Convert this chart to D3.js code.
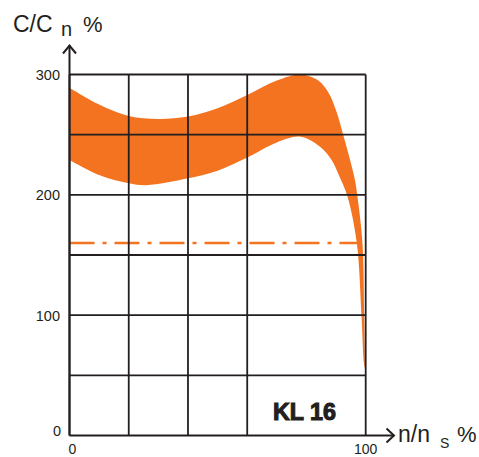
<!DOCTYPE html>
<html>
<head>
<meta charset="utf-8">
<script src="https://cdn.jsdelivr.net/npm/d3@7"></script>
<style>
  body { margin: 0; background: #fff; }
  text { font-family: "Liberation Sans", Arial, sans-serif; fill: #231f20; }
</style>
</head>
<body>
<div id="place"></div>
<script>
// upper / lower edge of the torque band, [n/ns %, C/Cn %]
const upperEdge = [[0,289],[10,275],[20,265.5],[30,263],[40,265],[50,272],[60,283],[70,295],[78,300],[84,295],[87.4,285],[90,270],[92.4,250],[94.5,231],[96.4,212],[97.2,199],[98.9,160],[99.5,98],[99.8,55]]
const lowerEdge = [[0,229],[10,216.5],[20,209.6],[26,208],[40,213.7],[50,220],[60,231],[70,243.5],[78,248.3],[84.6,240],[88.5,229],[91,216],[93.8,199],[97,160],[98.6,98.5],[99.4,60],[99.8,55]]
const ratedLevel = 160
const ratedEnd = 97.6
const xGrid = [0, 20, 40, 60, 100]
const yGrid = [50, 100, 150, 200, 250, 300]
const yLabels = [100, 200, 300]
const xLabels = [0, 100]
const modelName = "KL 16"

;(function() {

	const width = 479, height = 457
	const orange = "#f37321", ink = "#231f20"

	let svg = d3.select("#place").append("svg")
		.attr('width', width)
		.attr('height', height)

	const x = d3.scaleLinear().domain([0, 100]).range([69.5, 365.7])
	const y = d3.scaleLinear().domain([0, 300]).range([435.5, 74.5])

	// band: upper edge left->right, then lower edge back
	const line = d3.line()
		.x(d => x(d[0]))
		.y(d => y(d[1]))
		.curve(d3.curveCatmullRom.alpha(0.5))

	const upPath = line(upperEdge)
	const lowPath = line(lowerEdge.slice().reverse())
	svg.append('path')
		.attr('d', upPath + 'L' + lowPath.slice(1) + 'Z')
		.style('fill', orange)
		.style('stroke', 'none')

	// dash-dot rated line
	svg.append('line')
		.attr('x1', x(0)).attr('x2', x(ratedEnd))
		.attr('y1', y(ratedLevel)).attr('y2', y(ratedLevel))
		.style('stroke', orange)
		.style('stroke-width', 2.6)
		.style('stroke-dasharray', '25,8,4,8')

	// grid
	svg.append('g').selectAll('line.h')
		.data(yGrid)
	  .enter().append('line')
		.attr('x1', x(0)).attr('x2', x(100))
		.attr('y1', d => y(d)).attr('y2', d => y(d))
		.style('stroke', ink).style('stroke-width', 1.8)

	svg.append('g').selectAll('line.v')
		.data(xGrid)
	  .enter().append('line')
		.attr('x1', d => x(d)).attr('x2', d => x(d))
		.attr('y1', y(0)).attr('y2', y(300))
		.style('stroke', ink).style('stroke-width', 1.8)

	// axes with open arrows
	const axes = svg.append('g')
		.style('stroke', ink).style('stroke-width', 2).style('fill', 'none')
	axes.append('line').attr('x1', x(0)).attr('x2', x(0)).attr('y1', y(0)).attr('y2', 45)
	axes.append('path').attr('d', `M${x(0)-6.5},53.5L${x(0)},45.5L${x(0)+6.5},53.5`)
	axes.append('line').attr('x1', x(0)).attr('x2', 394).attr('y1', y(0)).attr('y2', y(0))
	axes.append('path').attr('d', `M386.5,${y(0)-7}L394,${y(0)}L386.5,${y(0)+7}`)

	// tick labels
	svg.append('g').selectAll('text')
		.data(yLabels)
	  .enter().append('text')
		.attr('x', 60)
		.attr('y', d => y(d) + 5.5)
		.attr('text-anchor', 'end')
		.style('font-size', '14.5px')
		.text(d => d)
	svg.append('text')
		.attr('x', 61).attr('y', y(0))
		.attr('text-anchor', 'end')
		.style('font-size', '14.5px')
		.text(0)

	svg.append('g').selectAll('text')
		.data(xLabels)
	  .enter().append('text')
		.attr('x', d => d === 0 ? x(0) - 1 : x(d))
		.attr('y', 453.5)
		.attr('text-anchor', d => d === 0 ? 'start' : 'middle')
		.style('font-size', '14px')
		.text(d => d)

	// axis titles
	const yTitle = svg.append('text').attr('x', 13).attr('y', 32).style('font-size', '23px')
	yTitle.append('tspan').text('C/C')
	yTitle.append('tspan').attr('x', 61).attr('y', 36).style('font-size', '20px').text('n')
	yTitle.append('tspan').attr('x', 83).attr('y', 32).style('font-size', '22px').text('%')

	const xTitle = svg.append('text').attr('x', 398).attr('y', 442).style('font-size', '23px')
	xTitle.append('tspan').text('n/n')
	xTitle.append('tspan').attr('x', 440).attr('y', 448).style('font-size', '14px').text('S')
	xTitle.append('tspan').attr('x', 457).attr('y', 442).style('font-size', '22px').text('%')

	// model label
	svg.append('text')
		.attr('x', 273).attr('y', 419.5)
		.attr('textLength', 63)
		.attr('lengthAdjust', 'spacingAndGlyphs')
		.style('font-size', '24px')
		.style('font-weight', 'bold')
		.style('stroke', ink).style('stroke-width', 1.1)
		.text(modelName)

})()
</script>
</body>
</html>
